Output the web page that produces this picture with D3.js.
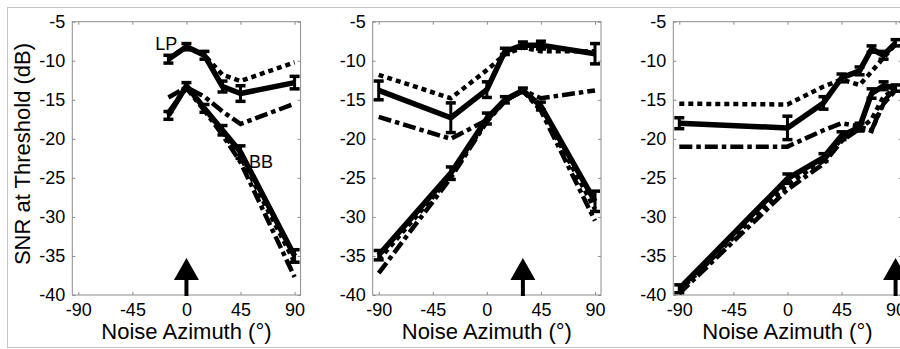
<!DOCTYPE html>
<html>
<head>
<meta charset="utf-8">
<script src="https://cdn.jsdelivr.net/npm/d3@7"></script>
<style>
  body { margin: 0; background: #fff; }
  text { font-family: "Liberation Sans", Arial, sans-serif; fill: #000; }
</style>
</head>
<body>
<div id="chart"></div>
<script>
// Tick labels / axes
const xTicks = [-90, -45, 0, 45, 90];
const yTicks = [-5, -10, -15, -20, -25, -30, -35, -40];
const xTitle = 'Noise Azimuth (°)';
const yTitle = 'SNR at Threshold (dB)';

// Panel 1 (target at 0°)
const az1 = [-15, 0, 15, 30, 45, 90];
const lpMeas1 = [-9.8, -8.2, -9.3, -13.3, -14.2, -12.8];
const lpErr1 = [0.5, 0.4, 0.5, 0.7, 1.0, 0.8];
const lpDot1 = [-9.8, -8.2, -9.3, -11.8, -12.6, -10.2];
const lpDash1 = [-14.7, -13.4, -14.6, -16.5, -18.1, -15.5];
const bbMeas1 = [-17.0, -13.2, -16.1, -18.9, -21.7, -35.0];
const bbErr1 = [0.5, 0.4, 0.5, 0.6, 0.8, 0.8];
const bbDot1 = [-16.8, -13.3, -16.2, -19.2, -22.3, -35.8];
const bbDash1 = [-16.6, -13.5, -16.4, -19.5, -23.0, -37.7];

// Panel 2 (target at 30°)
const az2 = [-90, -30, 0, 15, 30, 45, 90];
const lpMeas2 = [-13.8, -17.3, -13.7, -8.8, -8.0, -8.0, -9.1];
const lpErr2 = [1.2, 1.9, 1.0, 0.4, 0.4, 0.5, 1.3];
const lpDot2 = [-11.8, -14.8, -11.2, -9.2, -8.3, -8.8, -8.8];
const lpDash2 = [-17.2, -20.0, -17.6, -15.2, -13.8, -14.8, -13.8];
const bbMeas2 = [-34.9, -24.4, -17.4, -15.0, -13.8, -15.8, -28.0];
const bbErr2 = [0.6, 0.8, 0.7, 0.4, 0.3, 0.5, 1.3];
const bbDot2 = [-35.5, -24.8, -17.6, -15.1, -13.9, -16.2, -29.0];
const bbDash2 = [-37.2, -25.0, -17.8, -15.2, -13.8, -16.4, -30.5];

// Panel 3 (target at 90°)
const az3 = [-90, 0, 30, 45, 60, 70, 80, 90];
const lpMeas3 = [-18.0, -18.6, -15.4, -12.2, -11.3, -8.5, -9.3, -7.7];
const lpErr3 = [0.7, 1.5, 0.8, 0.5, 0.5, 0.4, 0.5, 0.4];
const lpDot3 = [-15.5, -15.6, -13.3, -12.4, -13.1, -11.4, -9.6, -7.9];
const lpDash3 = [-21.0, -21.0, -18.9, -18.0, -18.4, -19.0, -15.2, -13.5];
const bbMeas3 = [-39.2, -25.1, -22.4, -19.6, -18.5, -14.2, -13.2, -13.5];
const bbErr3 = [0.5, 0.6, 0.5, 0.5, 0.5, 0.6, 0.5, 0.4];
const bbDot3 = [-39.5, -25.8, -22.8, -20.0, -18.8, -17.5, -14.6, -13.6];
const bbDash3 = [-39.8, -26.5, -23.2, -20.3, -18.7, -18.9, -15.5, -13.8];

const targets = [0, 30, 90];

// Text annotations (data coordinates, panel 1)
const labelText = ['LP', 'BB'];
const labelAz = [-26, 52];
const labelSnr = [-8.6, -23.7];

const panels = [
  { az: az1, lp: lpMeas1, lpErr: lpErr1, lpDot: lpDot1, lpDash: lpDash1, bb: bbMeas1, bbErr: bbErr1, bbDot: bbDot1, bbDash: bbDash1 },
  { az: az2, lp: lpMeas2, lpErr: lpErr2, lpDot: lpDot2, lpDash: lpDash2, bb: bbMeas2, bbErr: bbErr2, bbDot: bbDot2, bbDash: bbDash2 },
  { az: az3, lp: lpMeas3, lpErr: lpErr3, lpDot: lpDot3, lpDash: lpDash3, bb: bbMeas3, bbErr: bbErr3, bbDot: bbDot3, bbDash: bbDash3 }
];

const width = 900;
const height = 349;
const panelLeft = [72.3, 372.7, 673.3];
const panelWidth = 228.3;
const plotTop = 21.7;
const plotBottom = 295;
const axisColor = '#8c8c8c';
const plainNum = d => String(d);   // hyphen minus, as in the original

const svg = d3.select('#chart').append('svg')
  .attr('width', width)
  .attr('height', height);

// outer frame
svg.append('rect')
  .attr('x', 7.5).attr('y', 7.5)
  .attr('width', 905).attr('height', 340)
  .attr('fill', 'none')
  .attr('stroke', '#c4c4c4')
  .attr('stroke-width', 1);

const yScale = d3.scaleLinear().domain([-40, -5]).range([plotBottom, plotTop]);

panels.forEach((p, i) => {
  const xScale = d3.scaleLinear().domain([-95, 95]).range([0, panelWidth]);
  const g = svg.append('g').attr('transform', `translate(${panelLeft[i]},0)`);

  // box
  g.append('rect')
    .attr('x', 0).attr('y', plotTop)
    .attr('width', panelWidth).attr('height', plotBottom - plotTop)
    .attr('fill', 'none')
    .attr('stroke', axisColor)
    .attr('stroke-width', 1);

  // axes (ticks point inward)
  g.append('g')
    .attr('transform', `translate(0,${plotBottom})`)
    .call(d3.axisBottom(xScale).tickValues(xTicks).tickSize(-3).tickSizeOuter(0).tickPadding(8).tickFormat(plainNum));
  g.append('g')
    .attr('transform', `translate(0,${plotTop})`)
    .call(d3.axisTop(xScale).tickValues(xTicks).tickSize(-3).tickSizeOuter(0).tickFormat(''));
  g.append('g')
    .call(d3.axisLeft(yScale).tickValues(yTicks).tickSize(-3).tickSizeOuter(0).tickPadding(7).tickFormat(plainNum));
  g.append('g')
    .attr('transform', `translate(${panelWidth},0)`)
    .call(d3.axisRight(yScale).tickValues(yTicks).tickSize(-3).tickSizeOuter(0).tickFormat(''));

  g.selectAll('.domain').remove();
  g.selectAll('.tick line').attr('stroke', axisColor);
  g.selectAll('.tick text')
    .attr('fill', '#000')
    .style('font-size', '18px')
    .style('font-family', '"Liberation Sans", Arial, sans-serif');

  // x title
  g.append('text')
    .attr('x', panelWidth / 2)
    .attr('y', 338.5)
    .attr('text-anchor', 'middle')
    .style('font-size', '22px')
    .text(xTitle);

  const line = d3.line()
    .x(d => xScale(d[0]))
    .y(d => yScale(d[1]));

  const pairs = (vals) => p.az.map((a, k) => [a, vals[k]]);

  // model lines
  [p.lpDash, p.bbDash].forEach(vals => {
    g.append('path')
      .datum(pairs(vals))
      .attr('fill', 'none')
      .attr('stroke', '#000')
      .attr('stroke-width', 4.5)
      .attr('stroke-dasharray', '13,4,4.5,4')
      .attr('d', line);
  });
  [p.lpDot, p.bbDot].forEach(vals => {
    g.append('path')
      .datum(pairs(vals))
      .attr('fill', 'none')
      .attr('stroke', '#000')
      .attr('stroke-width', 4.5)
      .attr('stroke-dasharray', '5,4')
      .attr('d', line);
  });

  // measured lines with error bars
  [[p.lp, p.lpErr], [p.bb, p.bbErr]].forEach(([vals, errs]) => {
    g.append('path')
      .datum(pairs(vals))
      .attr('fill', 'none')
      .attr('stroke', '#000')
      .attr('stroke-width', 5.5)
      .attr('stroke-linejoin', 'round')
      .attr('d', line);

    const eb = g.append('g').selectAll('g')
      .data(p.az.map((a, k) => ({ a: a, v: vals[k], e: errs[k] })))
      .join('g');
    eb.append('line')
      .attr('x1', d => xScale(d.a)).attr('x2', d => xScale(d.a))
      .attr('y1', d => yScale(d.v + d.e)).attr('y2', d => yScale(d.v - d.e))
      .attr('stroke', '#000').attr('stroke-width', 3);
    eb.append('line')
      .attr('x1', d => xScale(d.a) - 5).attr('x2', d => xScale(d.a) + 5)
      .attr('y1', d => yScale(d.v + d.e)).attr('y2', d => yScale(d.v + d.e))
      .attr('stroke', '#000').attr('stroke-width', 3.5);
    eb.append('line')
      .attr('x1', d => xScale(d.a) - 5).attr('x2', d => xScale(d.a) + 5)
      .attr('y1', d => yScale(d.v - d.e)).attr('y2', d => yScale(d.v - d.e))
      .attr('stroke', '#000').attr('stroke-width', 3.5);
  });

  // target arrow
  const ax = xScale(targets[i]);
  g.append('path')
    .attr('d', `M${ax - 2},${plotBottom + 1} L${ax - 2},${plotBottom - 15} L${ax - 12.5},${plotBottom - 15} L${ax},${plotBottom - 37} L${ax + 12.5},${plotBottom - 15} L${ax + 2},${plotBottom - 15} L${ax + 2},${plotBottom + 1} Z`)
    .attr('fill', '#000');

  if (i === 0) {
    g.append('text')
      .attr('transform', `translate(${30 - panelLeft[0]},154) rotate(-90)`)
      .attr('text-anchor', 'middle')
      .style('font-size', '22px')
      .text(yTitle);

    labelText.forEach((t, k) => {
      g.append('text')
        .attr('x', xScale(labelAz[k]))
        .attr('y', yScale(labelSnr[k]))
        .style('font-size', '18px')
        .text(t);
    });
  }
});
</script>
</body>
</html>
